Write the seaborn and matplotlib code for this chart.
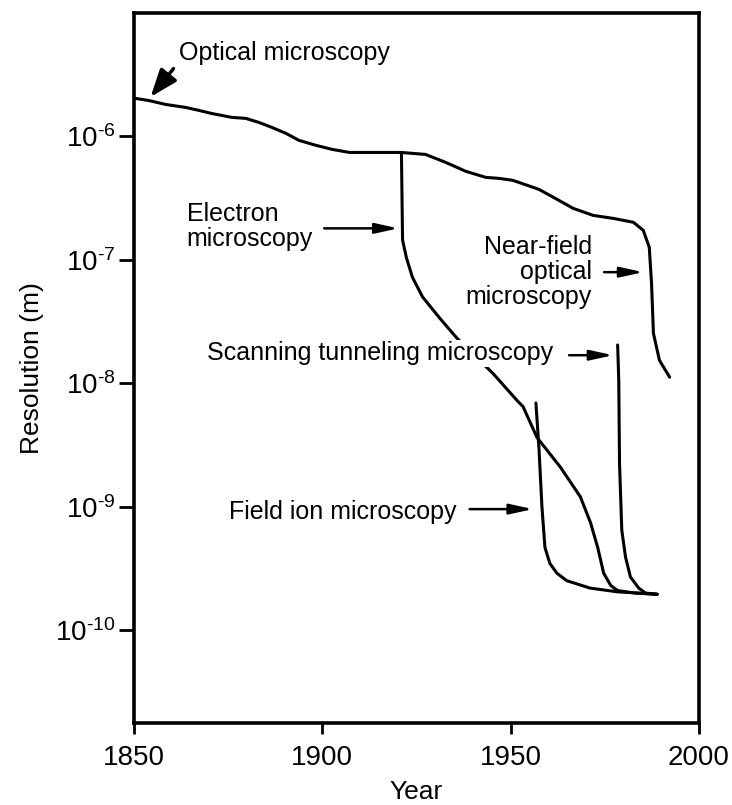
import matplotlib
matplotlib.use("Agg")
import numpy as np
import pandas as pd
import seaborn as sns
import matplotlib.pyplot as plt
from matplotlib.ticker import NullLocator, FixedLocator, FixedFormatter

# ---- data (year, log10 of resolution in metres) ----
optical_year = [1850.4, 1853.9, 1858.4, 1863.7, 1867.2, 1870.6, 1876.0, 1879.7, 1883.2,
                1886.6, 1890.4, 1893.8, 1898.4, 1902.6, 1907.2, 1911.4, 1921.0, 1927.4,
                1932.8, 1938.1, 1943.4, 1946.9, 1950.6, 1957.5, 1962.8, 1966.6, 1971.9,
                1977.2, 1982.6, 1985.2, 1986.8, 1987.4, 1987.9, 1989.5, 1992.2]
optical_log = [-5.692, -5.709, -5.741, -5.765, -5.789, -5.814, -5.846, -5.854, -5.887,
               -5.927, -5.976, -6.032, -6.073, -6.105, -6.130, -6.130, -6.130, -6.146,
               -6.211, -6.283, -6.332, -6.340, -6.356, -6.429, -6.518, -6.583, -6.640,
               -6.664, -6.696, -6.761, -6.899, -7.190, -7.595, -7.814, -7.951]

electron_year = [1921.0, 1921.3, 1922.3, 1923.9, 1926.6, 1931.1, 1935.6, 1940.5, 1945.3,
                 1951.7, 1953.3, 1957.0, 1963.2, 1968.5, 1971.2, 1973.1, 1974.7, 1976.6,
                 1978.4, 1983.0, 1988.9]
electron_log = [-6.13, -6.84, -6.98, -7.14, -7.30, -7.47, -7.63, -7.78, -7.92,
                -8.14, -8.19, -8.44, -8.68, -8.92, -9.13, -9.33, -9.54, -9.64,
                -9.68, -9.70, -9.71]

fim_year = [1956.7, 1957.5, 1958.3, 1959.1, 1960.4, 1962.3, 1964.9, 1971.1, 1978.3, 1988.9]
fim_log = [-8.16, -8.52, -9.00, -9.33, -9.46, -9.54, -9.60, -9.66, -9.69, -9.71]

stm_year = [1978.4, 1978.7, 1978.9, 1979.5, 1980.5, 1981.8, 1984.0, 1985.8, 1988.9]
stm_log = [-7.69, -7.98, -8.65, -9.19, -9.41, -9.57, -9.66, -9.70, -9.71]

techniques = ["Optical microscopy", "Electron microscopy",
              "Field ion microscopy", "Scanning tunneling microscopy"]

ytick_exps = [-10, -9, -8, -7, -6]
xticks = [1850, 1900, 1950, 2000]

frames = []
for name, yrs, lg in zip(techniques,
                         [optical_year, electron_year, fim_year, stm_year],
                         [optical_log, electron_log, fim_log, stm_log]):
    frames.append(pd.DataFrame({"year": yrs,
                                "resolution": 10.0 ** np.array(lg),
                                "technique": name}))
df = pd.concat(frames, ignore_index=True)

sns.set_theme(style="ticks")
plt.rcParams["font.family"] = ["Liberation Sans", "DejaVu Sans"]
plt.rcParams["mathtext.fontset"] = "custom"
plt.rcParams["mathtext.rm"] = "Liberation Sans"
plt.rcParams["mathtext.default"] = "regular"
plt.rcParams["text.color"] = "black"
plt.rcParams["axes.labelcolor"] = "black"
plt.rcParams["xtick.color"] = "black"
plt.rcParams["ytick.color"] = "black"

fig = plt.figure(figsize=(7.32, 8.05), dpi=100)
ax = fig.add_axes([134 / 732, 1 - 723 / 805, 565 / 732, (723 - 13) / 805])

sns.lineplot(data=df, x="year", y="resolution", hue="technique",
             palette=["black"] * 4, estimator=None, sort=False,
             legend=False, linewidth=2.2, ax=ax)

ax.set_yscale("log")
ax.set_xlim(1850, 2000)
ax.set_ylim(10 ** -10.753, 10 ** -5.0)
ax.yaxis.set_major_locator(FixedLocator([10.0 ** e for e in ytick_exps]))
ax.yaxis.set_major_formatter(FixedFormatter([r"$10^{\text{%d}}$" % e for e in ytick_exps]))
ax.yaxis.set_minor_locator(NullLocator())
ax.set_xticks(xticks)
ax.set_xticklabels([str(x) for x in xticks])

ax.tick_params(axis="y", direction="out", length=11, width=2, labelsize=20,
               pad=2, colors="black", left=True)
ax.tick_params(axis="x", direction="out", length=8, width=2, labelsize=20,
               pad=8, colors="black", bottom=True)
for s in ax.spines.values():
    s.set_visible(True)
    s.set_linewidth(2.6)
    s.set_color("black")

ax.set_xlabel("Year", fontsize=19, labelpad=6, color="black")
ax.set_ylabel("Resolution (m)", fontsize=19, labelpad=8, color="black")

fs = 18
arrow = dict(arrowstyle="-|>,head_length=1.0,head_width=0.22", color="black",
             lw=1.8, shrinkA=0, shrinkB=0, mutation_scale=14)

ax.text(1861.9, 10 ** -5.328, "Optical microscopy", fontsize=fs, ha="left",
        va="center", color="black")
ax.annotate("", xy=(1854.4, 10 ** -5.68), xytext=(1860.5, 10 ** -5.45),
            arrowprops=dict(arrowstyle="-|>,head_length=1.2,head_width=0.45",
                            color="black", lw=2.5, shrinkA=0, shrinkB=0,
                            mutation_scale=14))

ax.text(1864.0, 10 ** -6.733, "Electron\nmicroscopy", fontsize=fs, ha="left",
        va="center", linespacing=1.05, color="black")
ax.annotate("", xy=(1920.2, 10 ** -6.745), xytext=(1900.5, 10 ** -6.745), arrowprops=arrow)

ax.text(1971.6, 10 ** -7.10, "Near-field\noptical\nmicroscopy", fontsize=fs, ha="right",
        va="center", multialignment="right", linespacing=1.05, color="black")
ax.annotate("", xy=(1985.2, 10 ** -7.10), xytext=(1974.8, 10 ** -7.10), arrowprops=arrow)

ax.text(1869.3, 10 ** -7.757, "Scanning tunneling microscopy", fontsize=fs, ha="left",
        va="center", zorder=5, color="black",
        bbox=dict(facecolor="white", edgecolor="none", pad=1))
ax.annotate("", xy=(1977.2, 10 ** -7.773), xytext=(1965.5, 10 ** -7.773), arrowprops=arrow)

ax.text(1875.2, 10 ** -9.045, "Field ion microscopy", fontsize=fs, ha="left",
        va="center", color="black")
ax.annotate("", xy=(1955.9, 10 ** -9.02), xytext=(1939.1, 10 ** -9.02), arrowprops=arrow)

fig.savefig("out.png", dpi=100, facecolor="white")
